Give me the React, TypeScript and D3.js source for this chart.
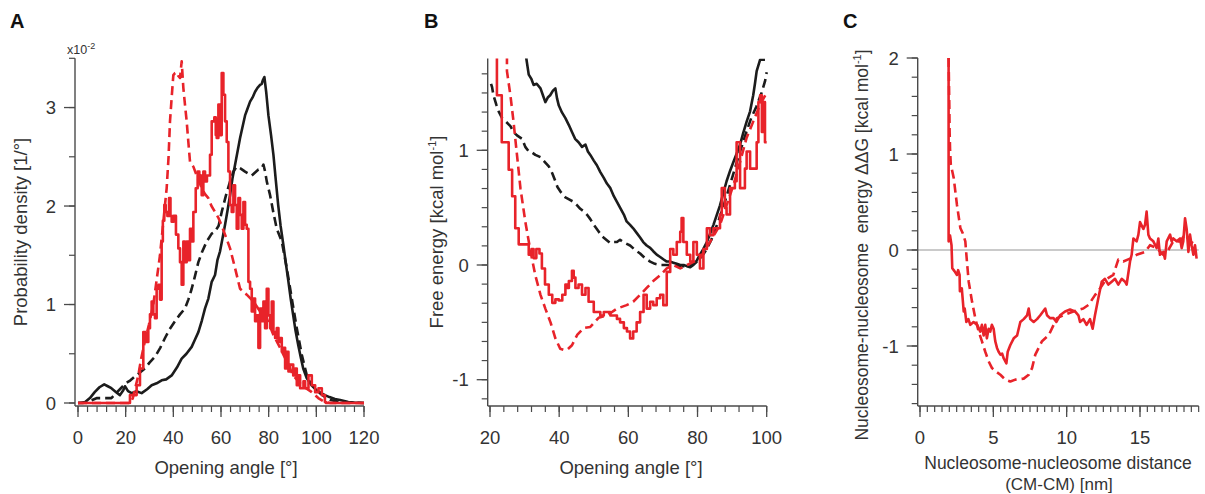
import React from "react";
import * as d3 from "d3";

type Pt = [number, number];

// ---------- Panel A: probability density (x10^-2) vs opening angle ----------
const aBlackSolid: Pt[] = [[0,0],[2,0],[3,0.01],[5,0.05],[7,0.11],[9,0.16],[11,0.19],[12.5,0.17],[14,0.15],[16,0.11],[17.6,0.08],[19,0.13],[19.7,0.17],[21,0.12],[22.5,0.1],[24.5,0.12],[26.7,0.1],[29,0.14],[30.9,0.18],[33,0.2],[35.1,0.23],[37,0.24],[39.3,0.28],[41.5,0.36],[43.5,0.45],[45.5,0.5],[47.7,0.57],[49,0.64],[50.5,0.72],[52,0.84],[53.3,0.96],[54.7,1.06],[56.1,1.23],[57.5,1.3],[58.5,1.45],[59.6,1.54],[60.7,1.68],[61.7,1.81],[62.7,1.95],[63.8,2.11],[64.8,2.28],[65.9,2.42],[67.3,2.6],[68,2.69],[69,2.8],[70.1,2.92],[71,2.98],[72.2,3.06],[73.2,3.1],[74.3,3.16],[75.3,3.2],[76.4,3.23],[77.1,3.24],[77.6,3.28],[78.2,3.31],[79,3.15],[79.9,2.92],[81,2.72],[82,2.52],[83,2.26],[84,2.01],[85,1.8],[86.2,1.6],[87.2,1.42],[88.3,1.23],[89.3,1.05],[90.3,0.89],[91.3,0.73],[92.4,0.59],[93.5,0.46],[94.5,0.35],[96,0.25],[98,0.18],[100,0.13],[102,0.1],[103.6,0.08],[105.5,0.06],[107.8,0.04],[110,0.03],[113.4,0.01],[116,0.005],[120,0]];
const aBlackDashed: Pt[] = [[0,0],[4,0.01],[6,0.03],[8,0.05],[10,0.05],[14,0.05],[16,0.1],[18,0.15],[20,0.2],[22,0.23],[23.9,0.27],[26,0.31],[28.1,0.35],[30,0.41],[32.3,0.47],[34.5,0.56],[36.5,0.66],[38.5,0.75],[40.7,0.83],[42.8,0.9],[44.9,0.96],[46.3,1.05],[47.7,1.16],[49,1.28],[50.5,1.43],[52,1.53],[54,1.64],[56.1,1.72],[57.5,1.74],[59,1.8],[60.3,1.94],[62,2.1],[63.8,2.25],[65.2,2.35],[66.6,2.4],[68.3,2.38],[70.1,2.35],[71.5,2.33],[72.9,2.31],[74.3,2.34],[75.7,2.37],[77,2.38],[77.8,2.42],[78.5,2.35],[79.2,2.25],[80.6,2.11],[82,1.93],[83.4,1.77],[85.5,1.64],[87.6,1.37],[89.7,1.06],[91.8,0.76],[93.9,0.49],[96,0.28],[97.7,0.2],[99.5,0.15],[101.5,0.1],[103.6,0.06],[106,0.03],[110,0.01],[120,0]];
const aRedDashed: Pt[] = [[0,0],[22,0],[23,0.05],[24,0.15],[25.3,0.28],[26.5,0.45],[28,0.62],[29.8,0.8],[31.6,1.0],[33,1.25],[34.4,1.5],[35.8,1.84],[37.2,2.18],[38,2.5],[38.6,2.86],[39.3,3.1],[40,3.33],[40.7,3.35],[41.4,3.36],[42.1,3.32],[42.8,3.3],[43.5,3.47],[44.2,3.2],[45,3.0],[45.6,2.86],[46.3,2.65],[47,2.45],[48.4,2.4],[49.8,2.31],[50.8,2.25],[51.9,2.18],[53.3,2.12],[54.7,2.08],[56,2.0],[57.5,1.94],[58.9,1.88],[60.3,1.8],[61.7,1.71],[63.8,1.57],[65.9,1.37],[68,1.16],[70.8,1.1],[73.6,1.03],[76.4,0.93],[79.2,0.86],[82,0.69],[84.8,0.56],[87.6,0.42],[90.3,0.28],[93.9,0.18],[98.1,0.11],[100.8,0.05],[103.6,0.01],[106,0],[120,0]];
const aRedSolid: Pt[] = [[0,0],[21.8,0],[21.8,0.08],[24.6,0.08],[24.6,0.18],[26,0.18],[26,0.35],[27.4,0.35],[27.4,0.72],[28.4,0.62],[29.5,0.76],[30.2,0.9],[30.9,1.03],[31.6,0.9],[32.3,0.86],[33,1.16],[33.7,1.2],[34.4,1.05],[35.1,1.64],[35.6,1.85],[36.2,2.01],[36.8,1.94],[37.5,1.9],[38.2,2.08],[38.8,1.9],[39.3,1.84],[40.1,1.9],[41.1,1.71],[42.1,1.57],[42.8,1.43],[43.5,1.2],[44.2,1.64],[44.9,1.43],[45.6,1.64],[46.3,1.45],[47,1.77],[47.7,1.64],[48.4,1.94],[49.4,2.18],[50.2,2.35],[50.9,2.25],[51.5,2.31],[51.9,2.11],[52.6,2.35],[53.3,2.25],[54.1,2.31],[55.4,2.52],[56.1,2.86],[57.2,2.9],[57.8,2.72],[58.2,2.69],[58.9,3.03],[59.6,2.72],[60.3,3.35],[61,3.13],[61.7,2.86],[62.4,2.65],[63.1,2.35],[63.8,2.01],[64.5,1.94],[65.2,2.21],[65.9,2.01],[66.6,1.77],[67.3,2.08],[68,1.91],[68.7,1.77],[69.4,2.04],[70.1,1.81],[70.8,1.77],[71.5,1.23],[72.2,1.16],[72.9,0.93],[73.6,1.06],[74.3,0.83],[75,0.89],[75.7,0.56],[76.4,0.96],[77.1,0.83],[77.8,1.03],[78.5,0.76],[79.2,1.16],[79.9,0.89],[80.6,0.76],[81.3,1.03],[82,0.72],[82.7,0.66],[83.4,0.76],[84.1,0.62],[84.8,0.66],[85.5,0.52],[86.2,0.56],[86.9,0.35],[87.6,0.52],[88.3,0.32],[89,0.39],[90.3,0.28],[91.1,0.35],[91.8,0.18],[92.5,0.28],[93.2,0.15],[94.6,0.22],[95.3,0.15],[96.7,0.28],[98.1,0.18],[99.5,0.11],[100.9,0.15],[102.3,0.08],[103.6,0.01],[104,0],[120,0]];
const aXTicks = [0, 20, 40, 60, 80, 100, 120];
const aYTicks = [0, 1, 2, 3];

// ---------- Panel B: free energy vs opening angle ----------
const bBlackSolid: Pt[] = [[30.2,1.95],[30.5,1.8],[31.2,1.66],[32,1.62],[32.6,1.57],[33.5,1.58],[34.6,1.54],[35.3,1.48],[36,1.42],[36.7,1.46],[37.4,1.48],[38.2,1.52],[38.9,1.54],[39.4,1.45],[39.9,1.39],[40.8,1.33],[41.8,1.28],[42.8,1.22],[43.7,1.16],[44.6,1.1],[45.6,1.07],[46.6,1.03],[47.6,1.05],[48.3,0.99],[49,0.96],[50,0.91],[50.9,0.87],[51.9,0.81],[52.9,0.76],[53.8,0.71],[54.8,0.67],[55.8,0.6],[56.7,0.55],[57.6,0.5],[58.7,0.44],[59.5,0.38],[60.5,0.35],[61.4,0.32],[62.4,0.28],[63.4,0.24],[64.3,0.2],[65.3,0.17],[66.3,0.15],[67.2,0.12],[68.2,0.09],[69.2,0.07],[70.1,0.05],[71.1,0.03],[72,0.03],[73,0.02],[74,0.01],[75,0],[76,0],[76.9,-0.01],[77.9,-0.02],[78.8,0],[79.8,0.04],[80.7,0.09],[81.7,0.14],[82.7,0.2],[83.6,0.27],[84.6,0.35],[85.5,0.43],[86.5,0.52],[87.4,0.62],[88.4,0.73],[89.4,0.82],[90.4,0.9],[91.3,0.97],[92.3,1.05],[93.2,1.15],[94.2,1.25],[95.2,1.34],[96.1,1.48],[96.6,1.58],[97.1,1.69],[98.1,1.79],[99.5,1.79]];
const bBlackDashed: Pt[] = [[20.3,1.58],[20.6,1.55],[21,1.48],[21.8,1.4],[22.5,1.34],[23.5,1.28],[24.6,1.25],[25.9,1.21],[26.8,1.16],[27.8,1.13],[29.3,1.1],[30.2,1.03],[31.2,0.99],[32.2,0.98],[33.1,0.96],[34.6,0.94],[35.8,0.9],[37,0.86],[38,0.8],[38.9,0.73],[39.5,0.68],[40.6,0.63],[41.8,0.59],[43,0.57],[44.2,0.55],[45.2,0.52],[46.1,0.49],[47,0.47],[48,0.44],[49,0.4],[50,0.35],[51.2,0.3],[52.4,0.25],[53.6,0.22],[54.8,0.19],[55.7,0.2],[56.7,0.2],[57.6,0.22],[58.5,0.2],[60.5,0.17],[62,0.13],[63.4,0.1],[64.8,0.06],[66.3,0.03],[67.7,0.01],[69.2,0],[71,0],[73,0],[75,-0.01],[77,-0.01],[79,0.01],[80.7,0.05],[82.5,0.13],[84,0.22],[86,0.38],[88,0.56],[90,0.76],[92,0.96],[94,1.15],[95.5,1.28],[97,1.38],[98.5,1.5],[99.5,1.6],[100,1.68]];
const bRedSolid: Pt[] = [[22,1.95],[22,1.48],[23.4,1.48],[23.4,1.07],[25.4,1.07],[25.4,0.83],[26.4,0.83],[26.4,0.6],[27.3,0.32],[28.3,0.32],[28.3,0.18],[30.2,0.18],[31.2,0.09],[32,0.14],[32.6,0.06],[33.4,0.14],[34.3,0.1],[35,-0.03],[35.9,-0.17],[37,-0.26],[38,-0.33],[38.9,-0.3],[39.9,-0.31],[40.9,-0.26],[41.8,-0.17],[42.3,-0.2],[42.8,-0.14],[43.7,-0.05],[44.2,-0.11],[44.7,-0.2],[45.6,-0.17],[46.6,-0.26],[47.6,-0.2],[48.5,-0.32],[50,-0.41],[51.9,-0.44],[52.9,-0.41],[54.8,-0.44],[56.7,-0.47],[57.6,-0.5],[58.7,-0.55],[59.6,-0.58],[60.5,-0.64],[61.4,-0.58],[62.4,-0.5],[63.4,-0.41],[64.4,-0.26],[65.3,-0.38],[66.3,-0.32],[67.2,-0.35],[68.2,-0.29],[69.2,-0.26],[70.1,-0.35],[71.1,-0.06],[72.1,0.14],[73,0.09],[74,0.2],[75,0.29],[75.4,0.41],[75.9,0.2],[76.9,0.09],[77.9,0.03],[78.8,0.2],[79.8,0.09],[80.7,-0.03],[81.7,0.14],[82.7,0.32],[83.6,0.26],[84.6,0.32],[85.5,0.32],[86.5,0.44],[87,0.67],[87.9,0.5],[88.4,0.44],[89.4,0.67],[90.8,0.73],[91.3,1.07],[92.3,0.67],[93.7,0.84],[94.2,0.99],[95.2,0.84],[96.6,0.84],[97.1,1.07],[97.6,1.42],[98.1,1.48],[98.6,1.16],[99.1,1.42],[99.5,1.07],[100,1.07]];
const bRedDashed: Pt[] = [[24.9,1.95],[24.9,1.69],[25.9,1.48],[26.8,1.25],[27.8,0.96],[28.8,0.67],[30.2,0.38],[31.7,0.12],[33.1,-0.09],[34.6,-0.26],[36,-0.38],[37.5,-0.5],[38.9,-0.64],[40.3,-0.73],[41.3,-0.74],[42.3,-0.74],[43.7,-0.7],[45.2,-0.61],[47.1,-0.55],[49,-0.54],[51.4,-0.46],[53.8,-0.44],[56.7,-0.38],[59.5,-0.35],[61.4,-0.32],[63.4,-0.26],[65.3,-0.2],[67.2,-0.14],[69.2,-0.09],[71.1,-0.03],[73,0],[75,-0.03],[77,0],[79,0.03],[80.7,0.06],[83.6,0.2],[86.5,0.35],[88.4,0.52],[90.4,0.7],[92.3,0.9],[94.2,1.11],[96.1,1.25],[98.1,1.4],[100,1.5]];
const bXTicks = [20, 40, 60, 80, 100];
const bYTicks = [-1, 0, 1];

// ---------- Panel C: nucleosome-nucleosome energy vs distance ----------
const cRedSolid: Pt[] = [[1.95,2.0],[1.95,0.09],[2.05,0.15],[2.15,0.05],[2.2,-0.19],[2.35,-0.22],[2.52,-0.26],[2.6,-0.21],[2.7,-0.26],[2.72,-0.43],[2.85,-0.4],[2.98,-0.64],[3.05,-0.61],[3.16,-0.75],[3.3,-0.72],[3.43,-0.78],[3.65,-0.75],[3.9,-0.78],[4.11,-0.85],[4.22,-0.78],[4.34,-0.89],[4.45,-0.78],[4.56,-0.92],[4.68,-0.82],[4.79,-0.85],[4.9,-0.78],[5.02,-0.82],[5.13,-0.95],[5.25,-1.02],[5.36,-1.06],[5.48,-1.09],[5.6,-1.08],[5.71,-1.13],[5.89,-1.18],[5.98,-1.06],[6.16,-0.99],[6.39,-0.92],[6.62,-0.89],[6.84,-0.75],[7.07,-0.72],[7.3,-0.68],[7.41,-0.61],[7.52,-0.72],[7.75,-0.75],[7.98,-0.72],[8.2,-0.68],[8.54,-0.61],[8.66,-0.68],[8.86,-0.71],[9.11,-0.71],[9.3,-0.75],[9.55,-0.68],[9.89,-0.64],[10.23,-0.62],[10.57,-0.64],[10.8,-0.68],[10.91,-0.75],[11.14,-0.72],[11.36,-0.78],[11.59,-0.72],[11.77,-0.82],[11.93,-0.68],[12.16,-0.5],[12.39,-0.33],[12.61,-0.3],[12.84,-0.36],[13.07,-0.33],[13.3,-0.3],[13.52,-0.36],[13.75,-0.3],[13.98,-0.33],[14.09,-0.36],[14.32,-0.12],[14.43,-0.05],[14.55,0.12],[14.77,0.09],[14.89,0.16],[15,0.29],[15.23,0.22],[15.34,0.26],[15.45,0.4],[15.57,0.16],[15.68,0.12],[15.91,0.09],[16.14,0.02],[16.25,0.12],[16.36,-0.05],[16.59,-0.02],[16.7,-0.09],[16.82,0.09],[17.05,0.16],[17.16,0.09],[17.27,0.12],[17.5,0.09],[17.73,0.12],[17.84,0.02],[17.95,0.09],[18.07,0.33],[18.18,0.22],[18.3,-0.02],[18.41,0.16],[18.52,0.05],[18.64,-0.05],[18.75,0.05],[18.86,-0.09]];
const cRedDashed: Pt[] = [[1.95,2.0],[2.0,1.5],[2.02,1.23],[2.05,1.05],[2.1,0.89],[2.3,0.75],[2.52,0.47],[2.75,0.23],[2.9,0.18],[3.09,0.09],[3.2,-0.12],[3.32,-0.33],[3.55,-0.54],[3.77,-0.71],[4.0,-0.85],[4.22,-0.95],[4.45,-1.06],[4.68,-1.16],[4.91,-1.23],[5.13,-1.26],[5.48,-1.3],[5.82,-1.35],[6.16,-1.37],[6.5,-1.35],[7.07,-1.34],[7.41,-1.3],[7.64,-1.23],[7.86,-1.09],[8.09,-1.02],[8.32,-0.95],[8.54,-0.92],[8.77,-0.89],[9.11,-0.78],[9.34,-0.71],[9.77,-0.68],[10.45,-0.64],[11.13,-0.61],[11.5,-0.57],[11.93,-0.47],[12.27,-0.4],[12.73,-0.3],[13.18,-0.26],[13.52,-0.1],[13.86,-0.12],[14.32,-0.09],[14.77,-0.05],[15.34,-0.02],[15.68,0.05],[16.14,0.02],[16.59,-0.05],[16.93,0.0],[17.27,0.09],[17.73,0.09],[18.07,0.16],[18.41,0.09],[18.86,0.05]];
const cXTicks = [0, 5, 10, 15];
const cYTicks = [-1, 0, 1, 2];

const RED = "#e8232a";
const BLACK = "#1c1c1c";
const AXIS = "#4a4a4a";
const TEXT = "#333333";
const FONT = "'Liberation Sans', Arial, Helvetica, sans-serif";
const TICK_FS = 18.5;
const TITLE_FS = 18.5;

type Series = { data: Pt[]; color: string; dashed: boolean; step?: boolean };

type PanelCfg = {
  id: string;
  xDomain: [number, number];
  xRange: [number, number];
  yDomain: [number, number];
  yRange: [number, number];
  axisX: number;
  axisY: number;
  xTicks: number[];
  xMinor: number[];
  yTicks: number[];
  yMinor: number[];
  series: Series[];
  zeroLine?: boolean;
};

function Panel({ cfg }: { cfg: PanelCfg }) {
  const x = d3.scaleLinear().domain(cfg.xDomain).range(cfg.xRange);
  const y = d3.scaleLinear().domain(cfg.yDomain).range(cfg.yRange);
  const top = Math.min(...cfg.yRange);
  const right = Math.max(...cfg.xRange);
  const clipId = "clip-" + cfg.id;
  return (
    <g>
      <defs>
        <clipPath id={clipId}>
          <rect x={cfg.axisX} y={top} width={right - cfg.axisX + 2} height={cfg.axisY - top} />
        </clipPath>
      </defs>
      {cfg.zeroLine && (
        <line x1={cfg.axisX} x2={right} y1={y(0)} y2={y(0)} stroke="#b8b8b8" strokeWidth={1.3} />
      )}
      <g clipPath={`url(#${clipId})`}>
        {cfg.series.map((s, i) => {
          const line = d3
            .line<Pt>()
            .x((d) => x(d[0]))
            .y((d) => y(d[1]))
            .curve(s.step ? d3.curveStepAfter : d3.curveLinear);
          return (
            <path
              key={i}
              d={line(s.data) || ""}
              fill="none"
              stroke={s.color}
              strokeWidth={2.6}
              strokeLinejoin="round"
              strokeDasharray={s.dashed ? "9,5" : undefined}
            />
          );
        })}
      </g>
      <line x1={cfg.axisX} x2={cfg.axisX} y1={top} y2={cfg.axisY} stroke={AXIS} strokeWidth={1.4} />
      <line x1={cfg.axisX} x2={right} y1={cfg.axisY} y2={cfg.axisY} stroke={AXIS} strokeWidth={1.4} />
      {cfg.xMinor.map((t, i) => (
        <line key={"xm" + i} x1={x(t)} x2={x(t)} y1={cfg.axisY} y2={cfg.axisY + 6} stroke={AXIS} strokeWidth={1.2} />
      ))}
      {cfg.xTicks.map((t, i) => (
        <g key={"xt" + i}>
          <line x1={x(t)} x2={x(t)} y1={cfg.axisY} y2={cfg.axisY + 11} stroke={AXIS} strokeWidth={1.3} />
          <text x={x(t)} y={cfg.axisY + 38} textAnchor="middle" fontSize={TICK_FS} fill={TEXT} fontFamily={FONT}>
            {t}
          </text>
        </g>
      ))}
      {cfg.yMinor.map((t, i) => (
        <line key={"ym" + i} x1={cfg.axisX - 6} x2={cfg.axisX} y1={y(t)} y2={y(t)} stroke={AXIS} strokeWidth={1.2} />
      ))}
      {cfg.yTicks.map((t, i) => (
        <g key={"yt" + i}>
          <line x1={cfg.axisX - 11} x2={cfg.axisX} y1={y(t)} y2={y(t)} stroke={AXIS} strokeWidth={1.3} />
          <text x={cfg.axisX - 19} y={y(t) + 6.5} textAnchor="end" fontSize={TICK_FS} fill={TEXT} fontFamily={FONT}>
            {t < 0 ? "-" + Math.abs(t) : t}
          </text>
        </g>
      ))}
    </g>
  );
}

const rangeStep = (a: number, b: number, s: number) => {
  const n = Math.round((b - a) / s);
  return d3.range(n + 1).map((i) => +(a + i * s).toFixed(4));
};

export default function App() {
  const panelA: PanelCfg = {
    id: "a",
    xDomain: [0, 120],
    xRange: [78, 364],
    yDomain: [0, 3.5],
    yRange: [403, 58.3],
    axisX: 75,
    axisY: 406,
    xTicks: aXTicks,
    xMinor: rangeStep(0, 120, 4),
    yTicks: aYTicks,
    yMinor: rangeStep(0, 3.5, 0.5),
    series: [
      { data: aBlackSolid, color: BLACK, dashed: false },
      { data: aBlackDashed, color: BLACK, dashed: true },
      { data: aRedDashed, color: RED, dashed: true },
      { data: aRedSolid, color: RED, dashed: false, step: true },
    ],
  };
  const panelB: PanelCfg = {
    id: "b",
    xDomain: [20, 100],
    xRange: [490, 766.7],
    yDomain: [-1.23, 1.8],
    yRange: [265 + 1.23 * 114.7, 265 - 1.8 * 114.7],
    axisX: 487.7,
    axisY: 406,
    xTicks: bXTicks,
    xMinor: rangeStep(20, 100, 4),
    yTicks: bYTicks,
    yMinor: rangeStep(-7 / 6, 10 / 6, 1 / 6),
    series: [
      { data: bBlackSolid, color: BLACK, dashed: false },
      { data: bBlackDashed, color: BLACK, dashed: true },
      { data: bRedDashed, color: RED, dashed: true },
      { data: bRedSolid, color: RED, dashed: false, step: true },
    ],
  };
  const panelC: PanelCfg = {
    id: "c",
    xDomain: [0, 19],
    xRange: [920, 920 + 19 * 14.667],
    yDomain: [-1.6, 2],
    yRange: [250 + 1.6 * 96, 250 - 2 * 96],
    axisX: 917.7,
    axisY: 406,
    xTicks: cXTicks,
    xMinor: rangeStep(0, 19, 0.5),
    yTicks: cYTicks,
    yMinor: rangeStep(-1.6, 2, 0.2),
    series: [
      { data: cRedDashed, color: RED, dashed: true },
      { data: cRedSolid, color: RED, dashed: false },
    ],
    zeroLine: true,
  };

  const title = { fontSize: TITLE_FS, fill: TEXT, fontFamily: FONT } as const;
  const letter = { fontSize: 20, fontWeight: 700, fill: "#111", fontFamily: FONT } as const;

  return (
    <svg width={1205} height={494} style={{ display: "block", position: "absolute", left: 0, top: 0, background: "#fff" }}>
      <rect width={1205} height={494} fill="#fff" />
      <text x={10} y={28} {...letter}>A</text>
      <text x={424} y={28} {...letter}>B</text>
      <text x={843} y={28} {...letter}>C</text>

      <text x={67} y={54} fontSize={12.5} fill={TEXT} fontFamily={FONT}>
        x10<tspan fontSize={9} dy={-5}>-2</tspan>
      </text>

      <Panel cfg={panelA} />
      <Panel cfg={panelB} />
      <Panel cfg={panelC} />

      <text x={226} y={474} textAnchor="middle" {...title}>Opening angle [°]</text>
      <text x={631} y={474} textAnchor="middle" {...title}>Opening angle [°]</text>
      <text x={1058} y={469} textAnchor="middle" {...title} fontSize={17.5}>Nucleosome-nucleosome distance</text>
      <text x={1059} y={490} textAnchor="middle" {...title} fontSize={17}>(CM-CM) [nm]</text>

      <text transform="translate(27,232) rotate(-90)" textAnchor="middle" {...title}>Probability density [1/°]</text>
      <text transform="translate(443,232) rotate(-90)" textAnchor="middle" {...title}>
        Free energy [kcal mol<tspan fontSize={11} dy={-7}>-1</tspan><tspan dy={7}>]</tspan>
      </text>
      <text transform="translate(868,245) rotate(-90)" textAnchor="middle" {...title} fontSize={17.5} style={{ whiteSpace: "pre" }}>
        Nucleosome-nucleosome  energy ΔΔG [kcal mol<tspan fontSize={11} dy={-7}>-1</tspan><tspan dy={7}>]</tspan>
      </text>
    </svg>
  );
}
